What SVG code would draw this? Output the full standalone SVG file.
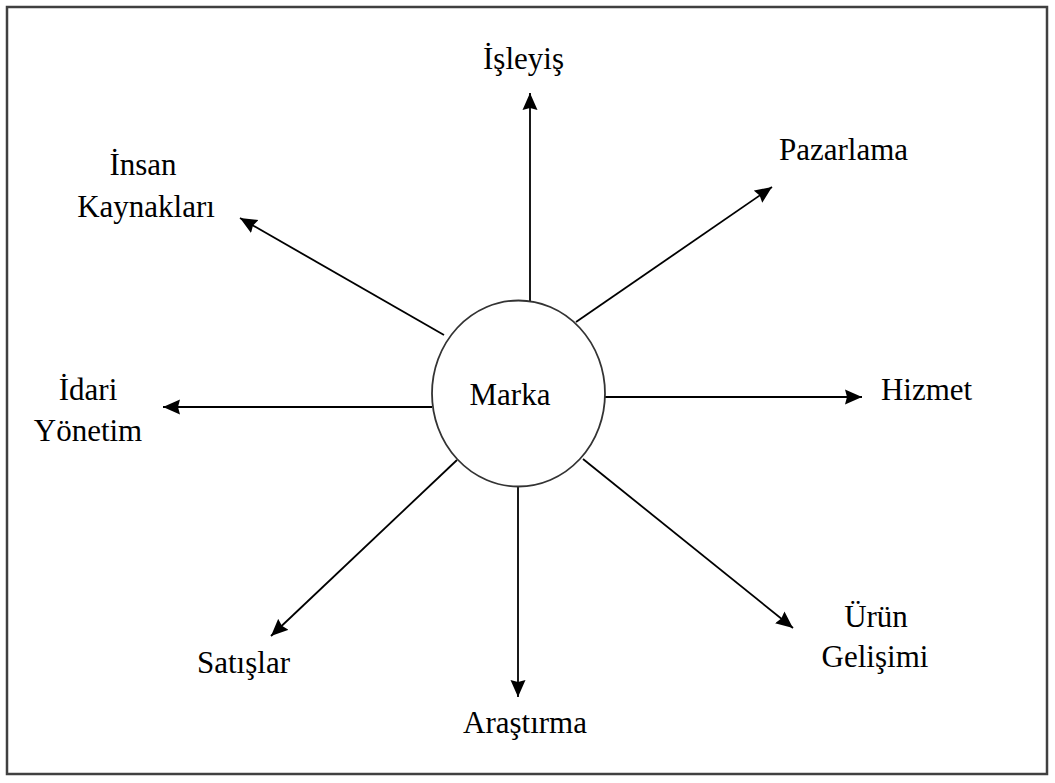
<svg xmlns="http://www.w3.org/2000/svg" width="1055" height="783" viewBox="0 0 1055 783">
<style>
text{font-family:"Liberation Serif","Times New Roman",serif;font-size:31px;fill:#000;text-anchor:middle}
.ln{stroke:#000;stroke-width:1.8;fill:none}
</style>
<defs>
<marker id="ah" markerUnits="userSpaceOnUse" markerWidth="18" markerHeight="16" refX="17" refY="7.5" orient="auto" viewBox="0 0 18 15">
<path d="M0,0 L17,7.5 L0,15 L2,7.5 z" fill="#000"/>
</marker>
</defs>
<rect x="7" y="7" width="1040" height="767" fill="#fff" stroke="#404040" stroke-width="2.5"/>
<g id="connectors">
<line class="ln" x1="530" y1="301" x2="530" y2="93" marker-end="url(#ah)"/>
<line class="ln" x1="576" y1="322" x2="772" y2="187" marker-end="url(#ah)"/>
<line class="ln" x1="605" y1="397" x2="862" y2="397" marker-end="url(#ah)"/>
<line class="ln" x1="583" y1="459" x2="793" y2="628" marker-end="url(#ah)"/>
<line class="ln" x1="518" y1="487" x2="518" y2="697" marker-end="url(#ah)"/>
<line class="ln" x1="457" y1="460" x2="271" y2="636" marker-end="url(#ah)"/>
<line class="ln" x1="432" y1="407" x2="163" y2="407" marker-end="url(#ah)"/>
<line class="ln" x1="444" y1="335" x2="240" y2="218" marker-end="url(#ah)"/>
</g>
<g id="marka">
<ellipse cx="518.5" cy="393.5" rx="86.5" ry="93" fill="#fff" stroke="#333" stroke-width="1.8"/>
<text x="510" y="405">Marka</text>
</g>
<g id="isleyis"><text x="523.5" y="69">İşleyiş</text></g>
<g id="pazarlama"><text x="843.5" y="160">Pazarlama</text></g>
<g id="hizmet"><text x="926.5" y="400">Hizmet</text></g>
<g id="urun-gelisimi"><text x="876" y="627">Ürün</text><text x="875" y="667">Gelişimi</text></g>
<g id="arastirma"><text x="525" y="733">Araştırma</text></g>
<g id="satislar"><text x="243.5" y="673">Satışlar</text></g>
<g id="idari-yonetim"><text x="88" y="400">İdari</text><text x="88" y="441">Yönetim</text></g>
<g id="insan-kaynaklari"><text x="143" y="175">İnsan</text><text x="146" y="217">Kaynakları</text></g>
</svg>
